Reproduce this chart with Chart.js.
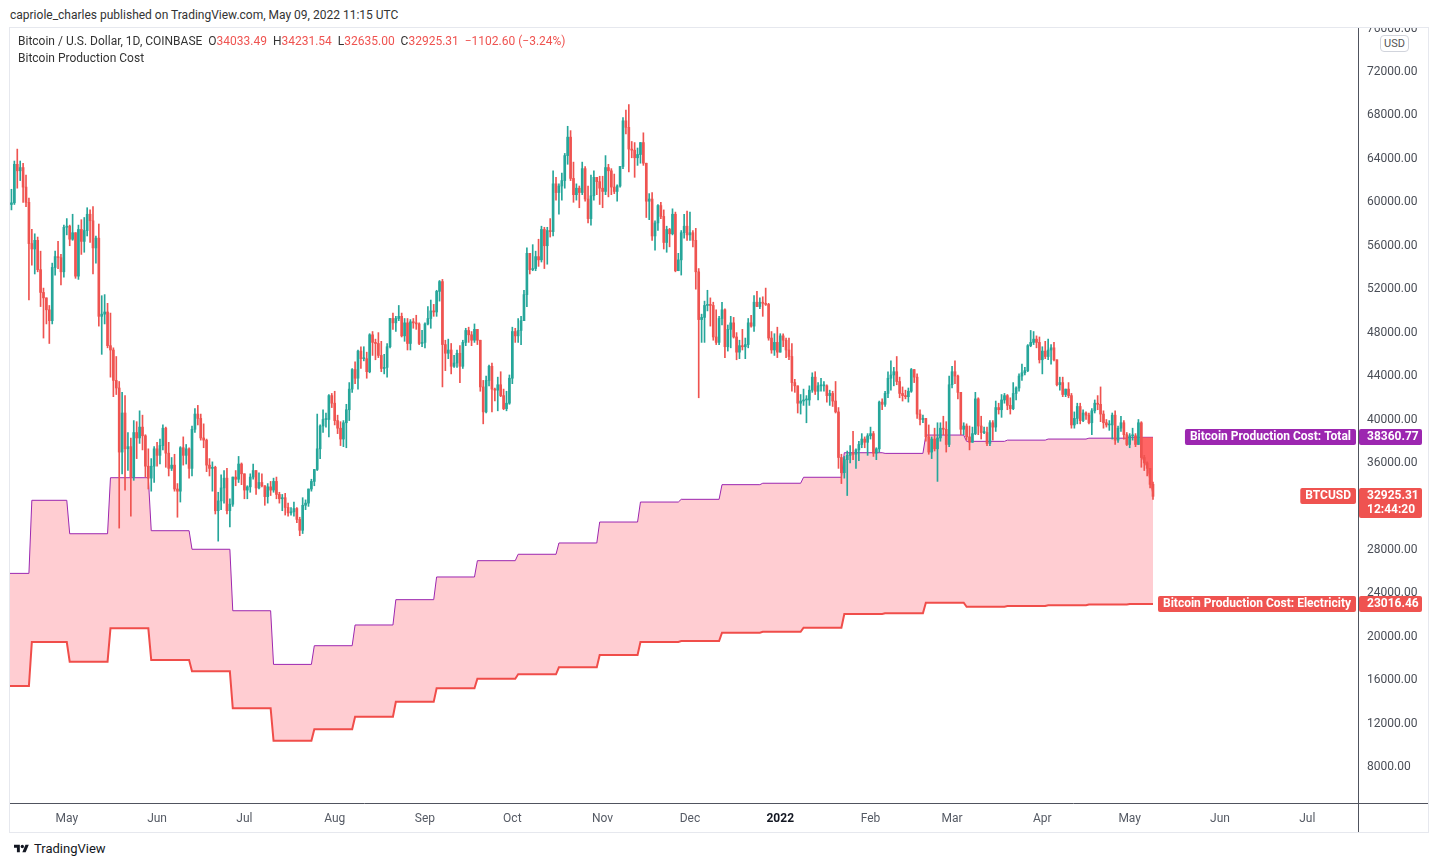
<!DOCTYPE html>
<html>
<head>
<meta charset="utf-8">
<title>Bitcoin Production Cost</title>
<script src="https://cdn.jsdelivr.net/npm/chart.js@4.4.1/dist/chart.umd.min.js"></script>
<style>
  html, body { margin: 0; padding: 0; background: #fff; }
  body { width: 1438px; height: 867px; position: relative; overflow: hidden; font-family: Roboto, "Open Sans", sans-serif; color: #131722; }
  #published { position: absolute; left: 10px; top: 7px; font-size: 12px; line-height: 16px; color: #333; }
  #panel { position: absolute; left: 9px; top: 27px; width: 1418px; height: 804px; border: 1px solid #e6e8ee; }
  #chartWrap { position: absolute; left: 10px; top: 28px; width: 1418px; height: 804px; }
  #legend { position: absolute; left: 18px; top: 33px; font-size: 12px; line-height: 17px; color: #333; z-index: 2; white-space: pre; }
  #legend .red { color: #ef5350; }
  #usd { position: absolute; left: 1380px; top: 35px; height: 15px; line-height: 15px; padding: 0 3px; font-size: 11px; color: #555; border: 1px solid #d1d4dc; border-radius: 4px; background: #fff; z-index: 2; }
  #footer { position: absolute; left: 14px; top: 841px; height: 16px; font-size: 13px; line-height: 16px; color: #131722; display: flex; align-items: center; }
  #footer svg { margin-right: 5px; }
</style>
</head>
<body>
<div id="published">capriole_charles published on TradingView.com, May 09, 2022 11:15 UTC</div>
<div id="panel"></div>
<div id="chartWrap"><canvas id="chart" width="1418" height="804"></canvas></div>
<div id="legend">Bitcoin / U.S. Dollar, 1D, COINBASE  O<span class="red">34033.49</span>  H<span class="red">34231.54</span>  L<span class="red">32635.00</span>  C<span class="red">32925.31</span>  <span class="red">−1102.60 (−3.24%)</span>
Bitcoin Production Cost</div>
<div id="usd">USD</div>
<div id="footer"><svg width="15" height="12" viewBox="0 0 36 28"><path d="M14 22H7V11H0V4h14v18z" fill="#131722"/><circle cx="20" cy="8" r="4" fill="#131722"/><path d="M28 22h-8l7.5-18h8L28 22z" fill="#131722"/></svg>TradingView</div>

<script>
// daily candles, Coinbase BTC/USD, first candle 2021-04-12, open of each day = previous close
const startDate = '2021-04-12';
const firstOpen = 59800;

const closes = [
  // Apr 2021
  59950, 63500, 62900, 63200, 61400, 60000, 56200, 55700, 56500, 53800, 51700, 51200, 50100, 49100, 54000, 55000, 54900, 53600, 57700,
  // May
  57800, 56600, 57200, 53200, 57500, 56400, 57400, 58900, 58300, 55800, 56700, 49500, 49700, 49900, 46800, 46400, 43600, 42900, 37000, 40600, 37300, 37500, 34700, 38800, 38300, 39300, 38500, 35700, 34600, 35700, 37300,
  // Jun
  36700, 37600, 39200, 36900, 35500, 35800, 33600, 33400, 37400, 36700, 37300, 35500, 39100, 40500, 40100, 38300, 38100, 35800, 35500, 35600, 31600, 32500, 33700, 34600, 31600, 32200, 34700, 34500, 35900, 35000,
  // Jul
  33500, 33800, 34700, 35300, 33700, 34200, 33900, 32900, 33800, 33500, 34300, 33100, 32700, 32800, 31900, 31400, 31500, 31800, 30800, 29800, 32100, 32300, 33600, 34300, 35400, 37300, 39400, 40000, 40000, 42200, 41500,
  // Aug
  39900, 39200, 38200, 39700, 40900, 42800, 44600, 43800, 46300, 45600, 45600, 44400, 47800, 47100, 47000, 45900, 44700, 44800, 46700, 49300, 48900, 49300, 49500, 47700, 48900, 47000, 49000, 48900, 48800, 47000, 47100,
  // Sep
  48800, 49300, 50000, 49900, 51800, 52700, 46900, 46100, 46400, 44900, 45200, 46100, 44900, 47100, 48200, 47800, 47300, 48300, 47300, 43000, 40700, 43600, 44900, 42800, 42700, 43200, 42200, 41000, 41500, 43800,
  // Oct
  48100, 47700, 48200, 49100, 51500, 55300, 53800, 53900, 55000, 54700, 57500, 56000, 57400, 57300, 61700, 60900, 61500, 62000, 64300, 66000, 62200, 60700, 61300, 60900, 63100, 60300, 58500, 60600, 62300, 61900, 61300,
  // Nov
  61000, 63200, 62900, 61400, 61000, 61500, 63300, 67500, 66900, 64900, 64800, 64100, 64400, 65500, 63600, 60100, 60300, 56900, 58100, 59700, 58700, 56300, 57500, 57100, 58900, 53700, 54700, 57200, 57800, 57000,
  // Dec
  57200, 56500, 53600, 49200, 49400, 50500, 50600, 50500, 47600, 47100, 49300, 50100, 46700, 48300, 48900, 47600, 46200, 46800, 46700, 46900, 48900, 48600, 50800, 50400, 50800, 50700, 50600, 47500, 46400, 47100, 46200,
  // Jan 2022
  47700, 47300, 46400, 45800, 43400, 43100, 41500, 41700, 41800, 41800, 42700, 43900, 42600, 43100, 43100, 43100, 42200, 42400, 41700, 40700, 36500, 35100, 36300, 36700, 36900, 36800, 37200, 37700, 38200, 37900, 38500,
  // Feb
  38700, 36900, 37300, 41600, 41400, 42400, 43800, 44100, 44400, 43500, 42400, 42200, 42100, 42600, 44600, 43900, 40500, 40000, 40100, 38400, 37000, 38200, 37300, 38300, 39200, 39100, 37700, 43200,
  // Mar
  44400, 44000, 42500, 39100, 39400, 38400, 37900, 38700, 41900, 39400, 38800, 38800, 37800, 39700, 39300, 41100, 40900, 41800, 42200, 41300, 41000, 42400, 42900, 44000, 44300, 44500, 46800, 47100, 47400, 47100, 45500,
  // Apr
  46300, 45800, 46400, 46600, 45500, 43200, 43400, 42300, 42800, 42200, 39500, 40100, 41200, 39900, 40600, 40400, 39700, 40800, 41500, 41400, 40500, 39700, 39500, 39500, 40400, 38100, 39200, 39700, 38600, 37700,
  // May
  38500, 38500, 37700, 39700, 36500, 36000, 35500, 34027.91, 32925.31
];

const highs = [
  61200, 63800, 64900, 63800, 63600, 62500, 60400, 57500, 57100, 56800, 55500, 52100, 51200, 50500, 54400, 55500, 56400, 55200, 57900,
  58500, 57900, 58900, 57200, 57900, 58400, 58600, 59500, 59300, 59600, 56900, 58000, 51400, 51500, 50700, 49800, 46600, 45800, 43500, 42500, 42200, 38800, 38300, 39900, 39800, 40800, 40400, 38600, 37300, 36400, 37500,
  37900, 38200, 39500, 39300, 37900, 36500, 36800, 34100, 37500, 38400, 37700, 37400, 39400, 41000, 41300, 40500, 39600, 38200, 36400, 36100, 35700, 33300, 34900, 35300, 35500, 32700, 34700, 35300, 36600, 36000,
  35000, 33900, 35000, 35900, 35300, 35100, 35000, 33900, 34100, 34300, 34600, 34700, 33300, 33100, 33200, 32300, 31900, 32400, 31900, 31000, 32800, 32600, 33600, 34500, 35400, 40500, 39500, 40900, 40600, 42300, 42400,
  42600, 40400, 39800, 39900, 41400, 43400, 44700, 45300, 46400, 46700, 46700, 46200, 47900, 48100, 47400, 48000, 47200, 46000, 47000, 49300, 49800, 49500, 50500, 49800, 49300, 49300, 49200, 49300, 49600, 48900, 48200,
  48900, 50400, 51000, 50600, 51900, 52800, 52900, 47300, 47400, 47000, 45900, 46400, 46800, 47300, 48400, 48500, 48100, 48800, 48300, 47300, 43600, 44000, 45000, 45200, 42900, 43900, 44400, 42800, 42600, 44100,
  48500, 48400, 49300, 49500, 51900, 55800, 55300, 56100, 55500, 56600, 57800, 57700, 57700, 58500, 62900, 62300, 61700, 62700, 64500, 67000, 66600, 63700, 61700, 61500, 63700, 63300, 61500, 62500, 62900, 62300, 62400,
  62400, 64300, 63500, 63100, 62600, 61600, 63300, 67800, 68500, 69000, 65600, 65500, 65000, 65500, 66400, 63600, 60800, 60900, 58300, 59800, 60000, 59300, 57800, 57600, 59400, 59100, 55300, 57400, 58900, 59200,
  59100, 57400, 57600, 53900, 49700, 50900, 51900, 51200, 50800, 50100, 49500, 50800, 50200, 48700, 49500, 49400, 48000, 47300, 48300, 47500, 49300, 49600, 51400, 51800, 51200, 51300, 52100, 50700, 48100, 47900, 48500,
  47900, 47900, 47500, 47500, 47000, 43700, 43100, 42300, 42800, 42200, 43100, 44300, 44400, 43400, 43800, 43500, 43200, 42700, 42600, 43500, 41100, 36800, 36600, 37100, 37600, 38900, 37300, 38000, 38700, 38400, 38700,
  39300, 38900, 37400, 41700, 41900, 42600, 44400, 45400, 44800, 45800, 43900, 43000, 42700, 42900, 44700, 44600, 44200, 40900, 40400, 40100, 39500, 38400, 39200, 39700, 39700, 40300, 39800, 44000,
  44900, 45400, 44100, 42500, 39700, 39600, 39400, 39300, 42500, 42000, 40300, 39300, 39300, 39900, 39900, 41700, 41500, 42300, 42400, 42300, 42000, 43400, 43000, 44200, 45100, 44800, 46900, 48200, 48100, 47700, 47600,
  46700, 47200, 47400, 46900, 47100, 45500, 43900, 43900, 42800, 43400, 42400, 40700, 41500, 41500, 40900, 40700, 40600, 41000, 41800, 42200, 43000, 40800, 40000, 39900, 40600, 40800, 39400, 40300, 39900, 38800,
  38700, 39200, 38700, 40000, 39800, 36700, 36100, 35500, 34231.54
];

const lows = [
  59300, 59800, 61300, 62000, 60000, 59600, 51000, 54200, 53400, 53600, 50400, 47500, 48800, 47000, 48800, 53300, 53900, 52400, 53100,
  57000, 56000, 56500, 53000, 52900, 55200, 55400, 56900, 56300, 53400, 54400, 48600, 46000, 48800, 46600, 43900, 42100, 42300, 30000, 35000, 33500, 35300, 31100, 34400, 36400, 37800, 37200, 34700, 33600, 33400, 34200,
  35700, 35900, 37200, 35600, 34800, 35300, 33400, 31000, 32400, 35800, 35900, 34600, 34800, 38800, 39500, 38100, 37400, 35200, 34800, 33400, 31300, 28800, 31700, 32300, 31300, 30100, 32000, 33900, 34200, 34000,
  32700, 32700, 33300, 34500, 33100, 33600, 33800, 32100, 32300, 33000, 33300, 32700, 32300, 31600, 31200, 31100, 31200, 31100, 30500, 29300, 29500, 31700, 32000, 33400, 33900, 35300, 36400, 38800, 39300, 38400, 41100,
  39500, 38700, 37600, 37500, 37400, 39900, 42500, 43300, 42800, 44700, 45400, 43800, 44300, 45900, 45500, 45700, 44400, 44200, 43900, 46600, 48300, 48100, 49100, 47600, 47200, 46400, 46400, 48400, 48300, 46900, 46700,
  46600, 48700, 48400, 49500, 49500, 50900, 43000, 44500, 45600, 44200, 44800, 44800, 43400, 44700, 46800, 47100, 46800, 47100, 46900, 42600, 39600, 40600, 43100, 40700, 41700, 40800, 42100, 40900, 40800, 41400,
  43300, 47100, 47100, 46900, 49100, 50400, 53400, 53700, 53700, 54100, 54500, 53900, 54300, 56800, 56900, 60200, 58900, 60200, 61300, 63500, 62000, 60000, 60200, 59500, 60700, 60100, 58100, 57900, 60200, 60700, 59800,
  59500, 60700, 60500, 60700, 60800, 60100, 61400, 63100, 66300, 62800, 64100, 62300, 63400, 63600, 63400, 58600, 58400, 56500, 55600, 57400, 58500, 55700, 55400, 55900, 57000, 53600, 53700, 53300, 56700, 56500,
  56500, 55900, 52000, 42000, 47100, 47100, 50000, 48600, 47300, 46900, 46900, 48700, 45700, 46300, 46600, 47500, 45500, 45600, 46400, 45600, 46600, 48500, 48100, 50400, 50200, 49500, 50500, 47300, 46100, 45900, 45700,
  46200, 46700, 45700, 45500, 42600, 42500, 40600, 40500, 41300, 39700, 41300, 42500, 42300, 41800, 42600, 42600, 41600, 41300, 41200, 40600, 35500, 34100, 34600, 33000, 36000, 36300, 35500, 36200, 37400, 37400, 36700,
  38200, 36600, 36300, 37000, 40900, 41200, 42000, 42700, 43100, 43200, 42000, 41700, 41900, 41600, 42500, 43400, 40100, 39500, 39700, 38000, 36800, 36400, 37100, 34300, 38000, 38600, 37000, 37500,
  42900, 43300, 41900, 38600, 38600, 38100, 37200, 37900, 38600, 38600, 38200, 38700, 37600, 37600, 38100, 38900, 40500, 40200, 41500, 40900, 40500, 40900, 41800, 42600, 43600, 44100, 44400, 46700, 46900, 46600, 45200,
  44200, 45600, 45500, 45100, 45400, 43100, 42700, 42100, 42100, 42000, 39200, 39200, 39600, 39600, 39800, 40000, 39600, 38600, 40600, 40900, 39800, 39200, 39300, 39000, 38200, 37700, 37900, 38900, 38200, 37600,
  37400, 38100, 37500, 37700, 35600, 35300, 34800, 33700, 32635
];

// production cost steps (value holds from its date until the next one)
const costDates = ['2021-04-11', '2021-04-19', '2021-05-02', '2021-05-16', '2021-05-30', '2021-06-13', '2021-06-27', '2021-07-11', '2021-07-25', '2021-08-08', '2021-08-22', '2021-09-05', '2021-09-19', '2021-10-03', '2021-10-17', '2021-10-31', '2021-11-14', '2021-11-28', '2021-12-12', '2021-12-26', '2022-01-09', '2022-01-23', '2022-02-06', '2022-02-20', '2022-03-06', '2022-03-20', '2022-04-03', '2022-04-17', '2022-05-01'];
const totalCost = [25830, 32560, 29480, 34640, 29760, 28050, 22390, 17450, 19170, 21080, 23410, 25500, 27000, 27590, 28630, 30560, 32400, 32650, 34000, 34130, 34680, 36940, 36880, 38570, 37990, 38100, 38200, 38280, 38360.77];
const elecCost = [15460, 19510, 17700, 20770, 17850, 16810, 13410, 10420, 11470, 12630, 14000, 15250, 16130, 16540, 17180, 18310, 19510, 19600, 20370, 20450, 20830, 22090, 22150, 23130, 22760, 22830, 22900, 22960, 23016.46];

const belowCostFrom = '2022-05-05';
const countdown = '12:44:20';

const monthStarts = ['2021-05-01', '2021-06-01', '2021-07-01', '2021-08-01', '2021-09-01', '2021-10-01', '2021-11-01', '2021-12-01', '2022-01-01', '2022-02-01', '2022-03-01', '2022-04-01', '2022-05-01', '2022-06-01', '2022-07-01'];
const monthLabels = ['May', 'Jun', 'Jul', 'Aug', 'Sep', 'Oct', 'Nov', 'Dec', '2022', 'Feb', 'Mar', 'Apr', 'May', 'Jun', 'Jul'];
const priceTicks = [8000, 12000, 16000, 20000, 24000, 28000, 32000, 36000, 40000, 44000, 48000, 52000, 56000, 60000, 64000, 68000, 72000, 76000];

const UP = '#26a69a';
const DOWN = '#ef5350';
const PURPLE = '#9c27b0';
const FONT = 'Roboto, "Open Sans", sans-serif';

const origin = Date.UTC(2021, 4, 1);
function dayOf(s) {
    const p = s.split('-').map(Number);
    return (Date.UTC(p[0], p[1] - 1, p[2]) - origin) / 86400000;
}

const startDay = dayOf(startDate);
const lastDay = startDay + closes.length - 1;

const wicks = [];
const bodies = [];
const candleColors = [];
closes.forEach((c, i) => {
    const o = i === 0 ? firstOpen : closes[i - 1];
    wicks.push({ x: startDay + i, y: [lows[i], highs[i]] });
    bodies.push({ x: startDay + i, y: [o, c] });
    candleColors.push(c >= o ? UP : DOWN);
});

function stepPoints(values) {
    const pts = [];
    costDates.forEach((d, i) => {
        const x = dayOf(d);
        if (i > 0) pts.push({ x: x - 1, y: values[i - 1] });
        pts.push({ x: x, y: values[i] });
    });
    pts.push({ x: lastDay, y: values[values.length - 1] });
    return pts;
}

const belowDay = dayOf(belowCostFrom);
const closeLine = bodies.filter(b => b.x >= belowDay).map(b => ({ x: b.x, y: b.y[1] }));

// axis lines: right price axis and bottom time axis run to the panel edges
const axisLines = {
    id: 'axisLines',
    afterDraw(chart) {
        const { ctx, chartArea } = chart;
        ctx.save();
        ctx.strokeStyle = '#50535e';
        ctx.lineWidth = 1;
        ctx.beginPath();
        ctx.moveTo(Math.round(chartArea.right) + 0.5, 0);
        ctx.lineTo(Math.round(chartArea.right) + 0.5, chart.height);
        ctx.moveTo(0, Math.round(chartArea.bottom) + 0.5);
        ctx.lineTo(chart.width, Math.round(chartArea.bottom) + 0.5);
        ctx.stroke();
        ctx.restore();
    }
};

// coloured last-value labels on the price scale
const priceLabels = {
    id: 'priceLabels',
    afterDraw(chart) {
        const { ctx, chartArea } = chart;
        const y = chart.scales.y;
        const items = [
            { name: 'Bitcoin Production Cost: Total', value: totalCost[totalCost.length - 1], color: PURPLE },
            { name: 'BTCUSD', value: closes[closes.length - 1], color: DOWN, extra: countdown },
            { name: 'Bitcoin Production Cost: Electricity', value: elecCost[elecCost.length - 1], color: DOWN }
        ];
        ctx.save();
        ctx.font = 'bold 12px ' + FONT;
        ctx.textBaseline = 'middle';
        items.forEach(it => {
            const py = Math.round(y.getPixelForValue(it.value));
            const right = chartArea.right;
            const h = it.extra ? 30 : 16;
            ctx.fillStyle = it.color;
            ctx.beginPath();
            ctx.roundRect(right + 1, py - 8, 63, h, 2);
            ctx.fill();
            const w = ctx.measureText(it.name).width + 10;
            ctx.beginPath();
            ctx.roundRect(right - 2 - w, py - 8, w, 16, 2);
            ctx.fill();
            ctx.fillStyle = '#fff';
            ctx.textAlign = 'left';
            ctx.fillText(it.value.toFixed(2), right + 9, py);
            if (it.extra) ctx.fillText(it.extra, right + 9, py + 14);
            ctx.textAlign = 'right';
            ctx.fillText(it.name, right - 7, py);
        });
        ctx.restore();
    }
};

new Chart(document.getElementById('chart'), {
    type: 'bar',
    data: {
        datasets: [
            {
                type: 'line',
                label: 'Bitcoin Production Cost: Total',
                data: stepPoints(totalCost),
                borderColor: PURPLE,
                borderWidth: 1,
                backgroundColor: '#ffcdd2',
                fill: '+1',
                pointRadius: 0,
                tension: 0,
                order: 4
            },
            {
                type: 'line',
                label: 'Bitcoin Production Cost: Electricity',
                data: stepPoints(elecCost),
                borderColor: '#f04d4a',
                borderWidth: 2,
                fill: false,
                pointRadius: 0,
                tension: 0,
                order: 3
            },
            {
                type: 'line',
                label: 'below cost',
                data: closeLine,
                borderWidth: 0,
                borderColor: 'rgba(0,0,0,0)',
                backgroundColor: 'rgba(255, 82, 82, 0.85)',
                fill: 0,
                pointRadius: 0,
                tension: 0,
                order: 2
            },
            {
                label: 'wicks',
                data: wicks,
                backgroundColor: candleColors,
                barThickness: 1,
                grouped: false,
                borderWidth: 0,
                order: 1
            },
            {
                label: 'BTCUSD',
                data: bodies,
                backgroundColor: candleColors,
                barThickness: 2,
                minBarLength: 1,
                grouped: false,
                borderWidth: 0,
                order: 0
            }
        ]
    },
    options: {
        responsive: false,
        devicePixelRatio: 1,
        animation: false,
        events: [],
        layout: { padding: 0 },
        plugins: {
            legend: { display: false },
            tooltip: { enabled: false }
        },
        scales: {
            x: {
                type: 'linear',
                min: -19.5,
                max: 443.4,
                offset: false,
                grid: { display: false, drawTicks: false },
                border: { display: false },
                afterBuildTicks: scale => { scale.ticks = monthStarts.map(d => ({ value: dayOf(d) })); },
                afterFit: scale => { scale.height = 29; scale.paddingLeft = 0; scale.paddingRight = 0; },
                ticks: {
                    autoSkip: false,
                    maxRotation: 0,
                    padding: 9,
                    color: ctx => ctx.index === 8 ? '#131722' : '#555a64',
                    font: ctx => ({ family: FONT, size: 12, weight: ctx.index === 8 ? 'bold' : 'normal' }),
                    callback: (v, i) => monthLabels[i]
                }
            },
            y: {
                position: 'right',
                min: 4687,
                max: 76050,
                grid: { display: false, drawTicks: false },
                border: { display: false },
                afterBuildTicks: scale => { scale.ticks = priceTicks.map(v => ({ value: v })); },
                afterFit: scale => { scale.width = 70; scale.paddingTop = 0; scale.paddingBottom = 0; },
                ticks: {
                    padding: 9,
                    color: '#4a4e57',
                    font: { family: FONT, size: 12 },
                    callback: v => v.toFixed(2)
                }
            }
        }
    },
    plugins: [axisLines, priceLabels]
});
</script>
</body>
</html>
